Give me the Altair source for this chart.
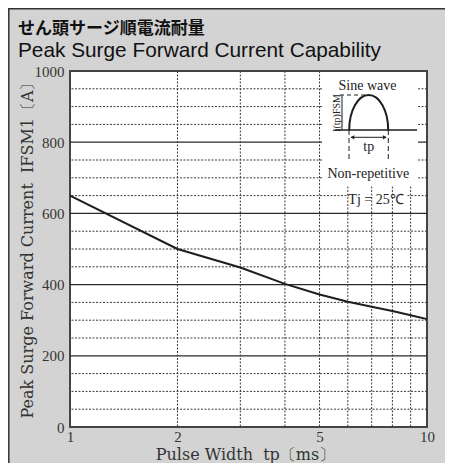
import altair as alt
import pandas as pd

# ---- data ----
pulse_ms = [1, 2, 3, 4, 5, 6, 7, 8, 9, 10]
ifsm_a = [650, 500, 448, 402, 372, 352, 338, 326, 314, 303]

x_ticks = [1, 2, 5, 10]
y_ticks = [0, 200, 400, 600, 800, 1000]
major_y = [200, 400, 600, 800]
minor_y = [50, 100, 150, 250, 300, 350, 450, 500, 550, 650, 700, 750, 850, 900, 950]
minor_x = [2, 3, 4, 5, 6, 7, 8, 9]

curve_df = pd.DataFrame({"tp": pulse_ms, "i": ifsm_a})
one = pd.DataFrame({"k": [0]})

W, H = 357, 356
xs = alt.Scale(type="log", domain=[1, 10])
ys = alt.Scale(domain=[0, 1000])
INK = "#1e1e1e"
GRID = "#3a3a3a"

x_axis = alt.Axis(
    values=x_ticks, format="~g", ticks=False, domain=False, grid=False,
    labelFlush=False, labelFont="Liberation Serif", labelFontSize=15,
    labelColor="#333", labelPadding=2,
    title="Pulse Width\u00a0\u00a0tp〔ms〕", titleFont="DejaVu Serif",
    titleFontSize=16, titleFontWeight="normal", titleColor="#333",
    titleX=175, titleY=27, titleAlign="center", titleBaseline="middle",
)
y_axis = alt.Axis(
    values=y_ticks, format="d", ticks=False, domain=False, grid=False,
    labelFont="Liberation Serif", labelFontSize=15, labelColor="#333",
    labelPadding=6,
    title="Peak Surge Forward Current\u00a0\u00a0IFSM1〔A〕",
    titleFont="DejaVu Serif", titleFontSize=16, titleFontWeight="normal",
    titleColor="#333", titleX=-43, titleY=175, titleAngle=270,
    titleAlign="center", titleBaseline="middle",
)

hminor = alt.Chart(pd.DataFrame({"v": minor_y})).mark_rule(
    color=GRID, strokeWidth=1, strokeDash=[2, 1.5]
).encode(y=alt.Y("v:Q", scale=ys, axis=y_axis))

hmajor = alt.Chart(pd.DataFrame({"v": major_y})).mark_rule(
    color="#2a2a2a", strokeWidth=1.3
).encode(y=alt.Y("v:Q", scale=ys, axis=y_axis))

tjmask = alt.Chart(one).mark_rect(color="white").encode(
    x=alt.value(279), x2=alt.value(337), y=alt.value(122), y2=alt.value(127)
)

vminor = alt.Chart(pd.DataFrame({"v": minor_x})).mark_rule(
    color=GRID, strokeWidth=1, strokeDash=[2, 1.5]
).encode(x=alt.X("v:Q", scale=xs, axis=x_axis))

box = alt.Chart(one).mark_rect(color="white").encode(
    x=alt.value(252), x2=alt.value(348), y=alt.value(1), y2=alt.value(115)
)

curve = alt.Chart(curve_df).mark_line(color=INK, strokeWidth=2).encode(
    x=alt.X("tp:Q", scale=xs, axis=x_axis),
    y=alt.Y("i:Q", scale=ys, axis=y_axis),
)

# ---- inset: sine-wave pulse sketch ----
h = 1.795
k = 0.5523 * h
half_sine = f"M-1,0 C-1,{-k:.3f} -0.552,{-h} 0,{-h} C0.552,{-h} 1,{-k:.3f} 1,0"
sine = alt.Chart(one).mark_point(
    shape=half_sine, size=1521, filled=False, stroke=INK, strokeWidth=2, opacity=1
).encode(x=alt.value(298.7), y=alt.value(59))

base = alt.Chart(one).mark_rule(color=INK, strokeWidth=1.5).encode(
    x=alt.value(265), x2=alt.value(347), y=alt.value(59))
peak = alt.Chart(one).mark_rule(color=INK, strokeWidth=1, strokeDash=[4, 3]).encode(
    x=alt.value(270), x2=alt.value(298), y=alt.value(24))
ibar = alt.Chart(one).mark_rule(color=INK, strokeWidth=1).encode(
    x=alt.value(272), y=alt.value(24), y2=alt.value(59))
tp_l = alt.Chart(one).mark_rule(color=INK, strokeWidth=1, strokeDash=[5, 3]).encode(
    x=alt.value(279), y=alt.value(59), y2=alt.value(90))
tp_r = alt.Chart(one).mark_rule(color=INK, strokeWidth=1, strokeDash=[5, 3]).encode(
    x=alt.value(318.3), y=alt.value(59), y2=alt.value(90))
arrow = alt.Chart(one).mark_rule(color=INK, strokeWidth=1).encode(
    x=alt.value(281), x2=alt.value(316), y=alt.value(66.3))
head_l = alt.Chart(one).mark_point(shape="triangle-left", size=18, filled=True, color=INK, opacity=1).encode(
    x=alt.value(282.5), y=alt.value(66.3))
head_r = alt.Chart(one).mark_point(shape="triangle-right", size=18, filled=True, color=INK, opacity=1).encode(
    x=alt.value(314.8), y=alt.value(66.3))

def label(txt, x, y, size=14, angle=0, font="Liberation Serif", align="center",
          baseline="middle", weight="normal", color="#222"):
    m = alt.Chart(one).mark_text(
        font=font, fontSize=size, color=color, fontWeight=weight,
        align=align, baseline=baseline, angle=angle,
    )
    return m.encode(x=alt.value(x), y=alt.value(y), text=alt.value(txt))

t_sine = label("Sine wave", 297.5, 15)
t_ifsm = label("I(tp)FSM", 267, 42, size=10, angle=270)
t_tp = label("tp", 298.7, 76)
t_nonrep = label("Non-repetitive", 298.3, 102.5)
t_tj = label("Tj = 25℃", 306, 129)

# ---- card title ----
title_jp = label("せん頭サージ順電流耐量", -52, -37, size=17, font="Noto Sans CJK JP",
                 align="left", baseline="alphabetic", weight="bold", color="#111")
title_en = label("Peak Surge Forward Current Capability", -52, -14, size=20.8,
                 font="Liberation Sans", align="left", baseline="alphabetic", color="#111")

# ---- frame lines of the card ----
frame_top = alt.Chart(one).mark_rule(color="#333", strokeWidth=1.5).encode(
    x=alt.value(-62), x2=alt.value(383), y=alt.value(-62.2))
frame_left = alt.Chart(one).mark_rule(color="#333", strokeWidth=1.5).encode(
    x=alt.value(-61.2), y=alt.value(-63), y2=alt.value(400))

chart = alt.layer(
    hminor, hmajor, tjmask, vminor, box, curve,
    sine, base, peak, ibar, tp_l, tp_r, arrow, head_l, head_r,
    t_sine, t_ifsm, t_tp, t_nonrep, t_tj, title_jp, title_en,
    frame_top, frame_left,
).properties(
    width=W, height=H,
    autosize=alt.AutoSizeParams(type="none"),
    padding={"left": 62, "top": 63, "right": 18, "bottom": 36},
    background="#d3d3d3",
).configure_view(fill="white", stroke="#444", strokeWidth=2)

chart.save("out.html", embed_options={"renderer": "svg", "actions": False})
